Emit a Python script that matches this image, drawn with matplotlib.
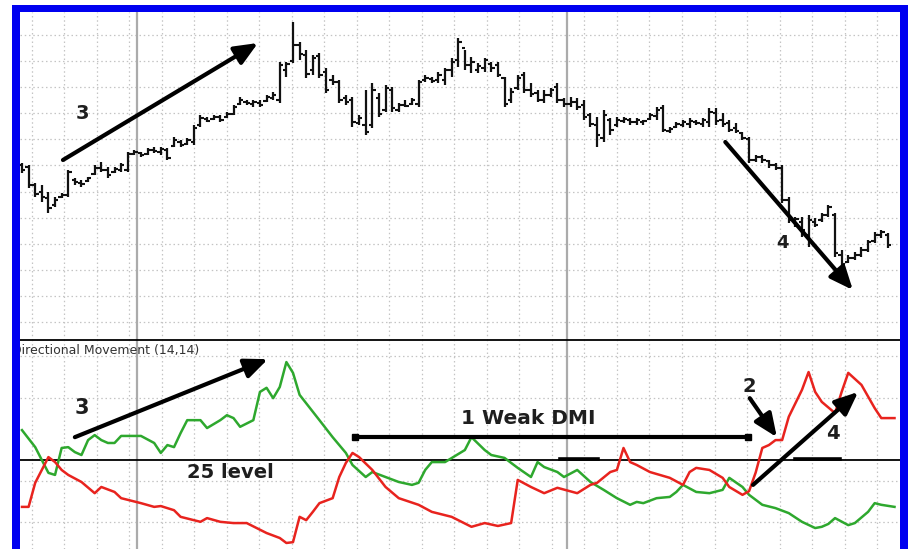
import numpy as np
import matplotlib.pyplot as plt
from matplotlib.patches import Rectangle

# daily price bars
highs = [27.7, 27.5, 25.7, 25.5, 24.8, 24.3, 24.7, 27.0, 26.2, 26.0,
         26.3, 27.5, 27.8, 27.3, 27.3, 27.7, 28.8, 29.0, 28.8, 29.2,
         29.3, 29.3, 29.2, 30.3, 30.0, 30.2, 31.5, 32.5, 32.3, 32.5,
         32.5, 32.8, 33.5, 34.3, 34.0, 34.0, 34.0, 34.5, 34.8, 37.8,
         37.8, 41.8, 39.8, 39.0, 38.5, 38.7, 37.2, 36.5, 36.0, 34.5,
         34.3, 32.5, 35.0, 35.7, 34.7, 35.5, 35.3, 33.7, 34.0, 34.2,
         36.0, 36.5, 36.3, 36.8, 37.2, 38.2, 40.2, 39.0, 38.3, 37.7,
         38.2, 37.8, 37.8, 36.3, 35.2, 36.5, 36.8, 35.7, 35.0, 35.0,
         35.2, 35.7, 34.2, 34.3, 34.2, 34.0, 32.7, 32.3, 33.0, 32.2,
         32.3, 32.3, 32.2, 32.2, 32.0, 32.7, 33.3, 33.5, 31.3, 31.8,
         32.0, 32.2, 32.0, 32.2, 33.2, 33.2, 32.7, 32.0, 31.7, 30.8,
         30.3, 28.5, 28.5, 28.0, 27.7, 27.5, 24.3, 22.3, 22.3, 22.5,
         22.2, 22.7, 23.5, 22.7, 19.0, 18.5, 18.8, 19.3, 20.0, 20.8,
         21.0, 20.7]
lows = [26.7, 25.2, 24.3, 23.8, 22.7, 23.3, 24.2, 24.3, 25.5, 25.3,
        25.8, 26.5, 26.8, 26.2, 26.7, 26.8, 26.8, 28.5, 28.3, 28.5,
        28.7, 28.5, 28.0, 29.3, 29.3, 29.5, 29.5, 31.3, 31.8, 32.0,
        31.8, 32.2, 32.5, 33.5, 33.5, 33.3, 33.3, 33.8, 34.0, 33.7,
        36.3, 37.7, 38.0, 36.2, 36.5, 36.2, 34.7, 35.5, 33.7, 33.5,
        31.3, 31.5, 30.5, 31.2, 32.3, 32.8, 32.8, 32.8, 33.3, 33.5,
        33.3, 35.8, 35.7, 35.7, 35.5, 36.3, 37.3, 37.0, 36.7, 36.7,
        36.8, 36.8, 36.3, 33.3, 33.7, 35.0, 34.7, 34.3, 33.8, 33.7,
        34.3, 33.7, 33.3, 33.3, 33.0, 32.0, 31.3, 29.3, 29.8, 30.5,
        31.3, 31.7, 31.5, 31.5, 31.5, 32.0, 32.0, 30.8, 30.7, 31.2,
        31.3, 31.2, 31.5, 31.3, 31.3, 31.5, 31.3, 30.8, 30.7, 30.0,
        27.7, 27.8, 27.7, 27.2, 27.0, 23.7, 21.7, 21.3, 20.3, 19.3,
        21.3, 21.8, 22.3, 18.3, 17.2, 17.7, 18.0, 18.3, 18.8, 19.7,
        20.2, 19.2]
opens = [27.5, 27.3, 25.5, 24.8, 24.2, 23.5, 24.3, 24.5, 26.0, 25.7,
         25.9, 26.6, 27.2, 27.0, 26.8, 27.0, 27.0, 28.6, 28.7, 28.6,
         29.0, 28.8, 29.0, 29.4, 29.8, 29.6, 29.8, 31.5, 32.1, 32.1,
         32.3, 32.3, 32.6, 33.6, 33.8, 33.6, 33.7, 33.9, 34.2, 34.0,
         37.0, 37.9, 39.5, 38.5, 37.0, 38.4, 36.8, 36.0, 35.8, 34.2,
         34.0, 31.7, 31.5, 31.5, 34.2, 33.0, 35.0, 33.0, 33.5, 33.6,
         33.6, 36.0, 36.1, 36.0, 36.0, 37.0, 38.0, 39.2, 37.5, 37.0,
         37.2, 37.6, 37.5, 36.2, 34.0, 35.2, 36.5, 35.0, 34.7, 34.0,
         34.5, 35.3, 34.0, 33.6, 33.8, 33.5, 32.5, 31.5, 30.2, 32.0,
         31.5, 31.9, 32.0, 31.8, 31.8, 32.1, 32.4, 33.2, 30.9, 31.3,
         31.5, 31.6, 31.8, 31.6, 31.8, 32.7, 32.0, 31.7, 31.2, 30.7,
         30.1, 28.0, 28.3, 27.9, 27.5, 27.2, 24.0, 22.0, 21.8, 20.5,
         21.8, 22.0, 22.5, 22.5, 18.5, 17.8, 18.2, 18.5, 19.0, 19.9,
         20.5, 20.5]
closes = [27.0, 25.5, 24.6, 24.3, 23.2, 24.0, 24.5, 26.8, 25.8, 25.6,
          26.2, 27.2, 27.0, 26.5, 27.1, 27.5, 28.6, 28.8, 28.5, 29.0,
          28.9, 29.1, 28.2, 30.0, 29.5, 30.0, 31.2, 32.2, 31.9, 32.3,
          32.0, 32.6, 33.3, 34.0, 33.7, 33.8, 33.5, 34.3, 34.5, 37.5,
          37.6, 39.5, 38.6, 36.6, 38.2, 36.5, 35.0, 35.8, 34.0, 33.8,
          31.8, 32.2, 30.8, 35.0, 32.6, 35.2, 33.2, 33.5, 33.4, 34.0,
          35.8, 36.2, 35.9, 36.5, 37.0, 37.8, 39.8, 37.5, 37.8, 37.4,
          38.0, 37.2, 36.5, 33.6, 34.8, 36.2, 35.0, 34.6, 34.0, 34.5,
          35.0, 34.0, 33.6, 33.8, 33.3, 32.3, 31.6, 30.5, 32.5, 31.0,
          32.0, 32.1, 31.8, 32.0, 31.9, 32.5, 33.0, 31.0, 31.1, 31.6,
          31.8, 31.9, 31.7, 32.0, 32.8, 31.9, 31.6, 31.0, 30.9, 30.2,
          28.0, 28.3, 28.0, 27.5, 27.2, 24.0, 22.0, 22.1, 21.0, 22.0,
          21.5, 22.5, 23.3, 18.7, 17.6, 18.2, 18.5, 19.0, 19.8, 20.5,
          20.8, 19.5]

# directional movement (14,14): +DI green, -DI red
plus_idx = [0, 2, 3, 4, 5, 6, 7, 8, 9, 10, 11, 12, 13, 14, 15, 18, 20, 21, 22, 23,
            24, 25, 27, 28, 30, 31, 32, 33, 35, 36, 37, 38, 39, 40, 41, 42, 45, 47, 49, 50,
            52, 53, 55, 57, 59, 60, 61, 62, 64, 67, 68, 70, 71, 73, 75, 77, 78, 79, 81, 82,
            84, 86, 88, 90, 92, 93, 94, 96, 98, 99, 100, 102, 104, 106, 107, 109, 110, 112, 114, 116,
            118, 120, 121, 122, 123, 125, 126, 128, 129, 130, 132]
plus_di = [32.2, 28.1, 25.0, 21.9, 21.4, 27.9, 28.1, 26.9, 26.2, 29.8,
           31.0, 29.8, 29.1, 29.1, 30.8, 30.8, 29.1, 26.7, 28.6, 28.1,
           31.5, 34.6, 34.6, 32.7, 34.6, 35.8, 35.1, 33.0, 34.6, 41.4,
           42.4, 39.9, 42.6, 48.6, 46.0, 40.7, 34.6, 30.5, 26.7, 23.8,
           20.9, 22.1, 20.9, 19.7, 19.0, 19.5, 22.6, 24.5, 24.5, 27.4,
           30.5, 27.4, 26.2, 25.5, 23.1, 20.9, 24.5, 23.3, 22.1, 20.9,
           22.6, 19.7, 17.8, 15.8, 14.2, 14.9, 14.6, 15.8, 16.1, 17.3,
           19.0, 17.3, 17.0, 17.8, 20.7, 18.5, 16.6, 14.2, 13.4, 12.2,
           10.1, 8.6, 8.9, 9.6, 11.0, 9.3, 9.8, 12.5, 14.6, 14.2, 13.7]
minus_idx = [0, 1, 2, 4, 5, 6, 7, 9, 11, 12, 14, 15, 18, 20, 21, 23, 24, 27, 28, 30,
             32, 34, 37, 39, 40, 41, 42, 43, 44, 45, 47, 48, 49, 50, 51, 53, 55, 57, 60, 62,
             65, 66, 68, 70, 72, 74, 75, 77, 79, 81, 84, 86, 87, 89, 90, 91, 92, 93, 95, 98,
             100, 101, 102, 104, 106, 107, 109, 110, 111, 112, 113, 114, 115, 116, 118, 119, 120, 121, 123, 124,
             125, 127, 129, 130, 132]
minus_di = [13.7, 13.7, 19.5, 25.7, 24.5, 22.6, 21.4, 19.7, 17.0, 18.5,
            17.3, 15.8, 14.6, 13.7, 13.9, 12.9, 11.3, 10.1, 11.0, 10.1,
            9.8, 9.8, 7.4, 6.2, 5.0, 5.2, 11.3, 10.5, 12.5, 14.6,
            15.8, 20.9, 24.3, 26.7, 25.7, 22.6, 18.5, 15.8, 14.2, 12.5,
            11.3, 10.5, 8.9, 9.8, 9.1, 9.8, 20.2, 18.5, 17.0, 18.3,
            17.0, 19.0, 19.5, 22.1, 22.6, 27.9, 24.5, 23.8, 22.1, 20.7,
            19.0, 22.1, 23.1, 22.6, 20.7, 18.5, 16.6, 17.5, 22.0, 27.9,
            28.6, 29.8, 29.8, 35.4, 41.9, 46.2, 41.4, 39.0, 36.3, 41.4,
            46.0, 43.1, 37.5, 35.1, 35.1]

title = 'Directional Movement (14,14)'

W, H = 908, 549
fig = plt.figure(figsize=(W / 100, H / 100), dpi=100)
fig.patch.set_facecolor('white')

ax1 = fig.add_axes([20 / W, 209 / H, 880 / W, 328 / H])
ax2 = fig.add_axes([20 / W, 0, 880 / W, 209 / H])

grid_kw = dict(color='#c4c4c4', linestyle=(0, (1.2, 2.2)), linewidth=0.9)
xgrid = np.arange(1.51, 133, 4.917)
for ax in (ax1, ax2):
    ax.set_xlim(-0.30, 132.83)
    ax.set_xticks(xgrid)
    ax.tick_params(length=0, labelbottom=False, labelleft=False)
    ax.grid(True, **grid_kw)
    ax.set_axisbelow(True)
    for s in ax.spines.values():
        s.set_visible(False)
    for xv in (17.4, 82.45):
        ax.axvline(xv, color='#ababab', lw=1.6, zorder=1)

# --- price panel ---
x = np.arange(len(highs))
ax1.set_ylim(10.0, 42.8)
ax1.set_yticks(np.arange(40.5, 11, -2.61))
ax1.vlines(x, lows, highs, color='#111111', lw=1.6, zorder=3)
ax1.hlines(opens, x - 0.5, x, color='#111111', lw=1.5, zorder=3)
ax1.hlines(closes, x, x + 0.5, color='#111111', lw=1.5, zorder=3)

arrow_kw = dict(arrowstyle='-|>,head_length=0.7,head_width=0.3', mutation_scale=20,
                lw=3, color='black', shrinkA=0, shrinkB=0)
txt_kw = dict(fontweight='bold', color='#1e1e1e', ha='center', va='center')

ax1.annotate('', xy=(35.7, 39.7), xytext=(6.2, 28.0), arrowprops=arrow_kw, zorder=5)
ax1.annotate('', xy=(125.7, 15.0), xytext=(106.4, 29.8), arrowprops=arrow_kw, zorder=5)
ax1.text(9.1, 32.6, '3', fontsize=14, **txt_kw)
ax1.text(115.1, 19.7, '4', fontsize=13, **txt_kw)

# --- DMI panel ---
ax2.set_ylim(3.55, 53.92)
ax2.set_yticks([10, 20, 40, 50])
ax2.spines['top'].set_visible(True)
ax2.spines['top'].set_color('black')
ax2.spines['top'].set_linewidth(1.3)

ax2.axhline(25, color='black', lw=1.3, zorder=2)
ax2.plot([81.4, 87.1], [25.2, 25.2], color='black', lw=2.6, zorder=2)
ax2.plot([116.9, 123.8], [25.2, 25.2], color='black', lw=2.6, zorder=2)

ax2.plot(plus_idx, plus_di, color='#2ea82e', lw=1.8, zorder=3)
ax2.plot(minus_idx, minus_di, color='#e8231e', lw=1.8, zorder=3)

ax2.text(-1.5, 51.4, title, fontsize=9, color='#333333', ha='left', va='center', clip_on=True)

ax2.annotate('', xy=(37.2, 49.3), xytext=(8.0, 30.5), arrowprops=arrow_kw, zorder=5)
ax2.text(9.1, 37.5, '3', fontsize=15, **txt_kw)
ax2.text(31.5, 22.0, '25 level', fontsize=14, **txt_kw)
ax2.text(76.6, 35.1, '1 Weak DMI', fontsize=14.5, **txt_kw)
ax2.plot([50.4, 109.8], [30.5, 30.5], color='black', lw=3, marker='s', markersize=4, zorder=5)
ax2.text(110.1, 42.8, '2', fontsize=14, **txt_kw)
ax2.annotate('', xy=(114.2, 30.5), xytext=(110.1, 39.9), arrowprops=arrow_kw, zorder=5)
ax2.text(122.7, 31.3, '4', fontsize=14, **txt_kw)
ax2.annotate('', xy=(126.5, 41.4), xytext=(110.6, 19.0), arrowprops=arrow_kw, zorder=5)

# blue frame
blue = '#0000f0'
for (bx, by, bw, bh) in [(12, 0, 8, 544), (12, 537, 896, 7), (900, 0, 8, 544)]:
    fig.add_artist(Rectangle((bx / W, by / H), bw / W, bh / H, transform=fig.transFigure,
                             facecolor=blue, edgecolor='none', zorder=10))

fig.savefig('out.png', dpi=100)
